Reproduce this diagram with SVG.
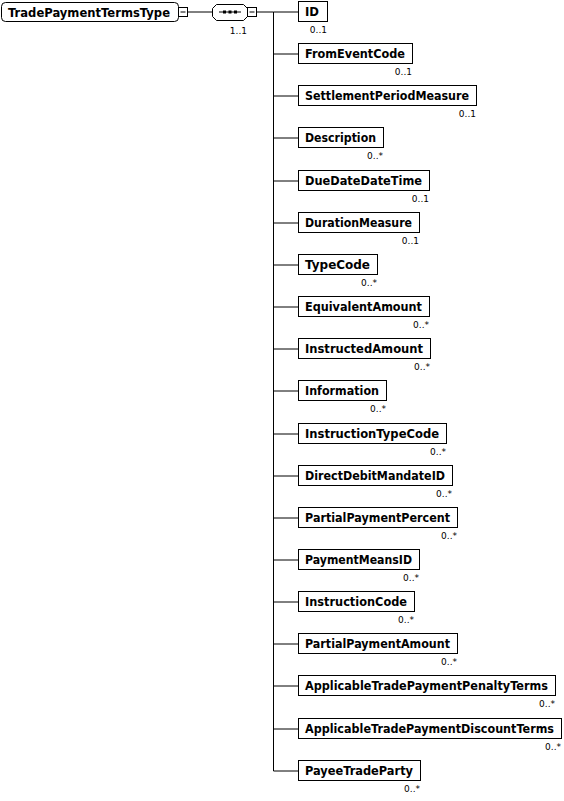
<svg xmlns="http://www.w3.org/2000/svg" width="564" height="801" viewBox="0 0 564 801">
<style>
.box{fill:#fff;stroke:#000;stroke-width:1}
.ln{stroke:#000;stroke-width:1;fill:none}
.nm{font-family:"DejaVu Sans",Verdana,sans-serif;font-weight:bold;font-size:11.5px;fill:#000}
.mul{font-family:"DejaVu Sans",Verdana,sans-serif;font-size:9px;fill:#000;text-anchor:end}
</style>
<defs>
<g id="minus"><rect class="box" x="0" y="0" width="9" height="9"/><line class="ln" x1="2" y1="4.5" x2="7" y2="4.5"/></g>
</defs>
<rect width="564" height="801" fill="#fff"/>
<g id="connectors">
<line class="ln" x1="187.5" y1="12" x2="212" y2="12"/>
<line class="ln" x1="256.5" y1="12" x2="273.5" y2="12"/>
<line class="ln" x1="273.5" y1="12" x2="273.5" y2="771"/>
<line class="ln" x1="273.5" y1="12" x2="298.5" y2="12"/>
<line class="ln" x1="273.5" y1="54" x2="298.5" y2="54"/>
<line class="ln" x1="273.5" y1="96" x2="298.5" y2="96"/>
<line class="ln" x1="273.5" y1="138" x2="298.5" y2="138"/>
<line class="ln" x1="273.5" y1="181" x2="298.5" y2="181"/>
<line class="ln" x1="273.5" y1="223" x2="298.5" y2="223"/>
<line class="ln" x1="273.5" y1="265" x2="298.5" y2="265"/>
<line class="ln" x1="273.5" y1="307" x2="298.5" y2="307"/>
<line class="ln" x1="273.5" y1="349" x2="298.5" y2="349"/>
<line class="ln" x1="273.5" y1="391" x2="298.5" y2="391"/>
<line class="ln" x1="273.5" y1="434" x2="298.5" y2="434"/>
<line class="ln" x1="273.5" y1="476" x2="298.5" y2="476"/>
<line class="ln" x1="273.5" y1="518" x2="298.5" y2="518"/>
<line class="ln" x1="273.5" y1="560" x2="298.5" y2="560"/>
<line class="ln" x1="273.5" y1="602" x2="298.5" y2="602"/>
<line class="ln" x1="273.5" y1="644" x2="298.5" y2="644"/>
<line class="ln" x1="273.5" y1="686" x2="298.5" y2="686"/>
<line class="ln" x1="273.5" y1="729" x2="298.5" y2="729"/>
<line class="ln" x1="273.5" y1="771" x2="298.5" y2="771"/>
</g>
<g id="root">
<rect class="box" x="1.5" y="2.5" width="177" height="19" rx="4"/>
<text class="nm" x="8" y="16.5" textLength="162" lengthAdjust="spacingAndGlyphs">TradePaymentTermsType</text>
<use href="#minus" x="178.5" y="7.5"/>
</g>
<g id="sequence">
<path class="box" d="M216.5,4.5 H243.5 L247.5,8.5 V16.5 L243.5,20.5 H216.5 L212.5,16.5 V8.5 Z"/>
<line class="ln" x1="219" y1="12" x2="241" y2="12"/>
<rect x="223" y="10.5" width="3" height="3" fill="#000"/>
<rect x="228.5" y="10.5" width="3" height="3" fill="#000"/>
<rect x="234" y="10.5" width="3" height="3" fill="#000"/>
<use href="#minus" x="247.5" y="7.5"/>
<text class="mul" x="247" y="34">1..1</text>
</g>
<g id="n0"><rect class="box" x="298.5" y="1.5" width="29" height="20"/><text class="nm" x="305" y="16" textLength="14" lengthAdjust="spacingAndGlyphs">ID</text><text class="mul" x="327" y="33">0..1</text></g>
<g id="n1"><rect class="box" x="298.5" y="43.5" width="114" height="20"/><text class="nm" x="305" y="58" textLength="100" lengthAdjust="spacingAndGlyphs">FromEventCode</text><text class="mul" x="412" y="75">0..1</text></g>
<g id="n2"><rect class="box" x="298.5" y="85.5" width="178" height="20"/><text class="nm" x="305" y="100" textLength="164" lengthAdjust="spacingAndGlyphs">SettlementPeriodMeasure</text><text class="mul" x="476" y="117">0..1</text></g>
<g id="n3"><rect class="box" x="298.5" y="127.5" width="85" height="20"/><text class="nm" x="305" y="142" textLength="71" lengthAdjust="spacingAndGlyphs">Description</text><text class="mul" x="383" y="159">0..*</text></g>
<g id="n4"><rect class="box" x="298.5" y="170.5" width="131" height="20"/><text class="nm" x="305" y="185" textLength="117" lengthAdjust="spacingAndGlyphs">DueDateDateTime</text><text class="mul" x="429" y="202">0..1</text></g>
<g id="n5"><rect class="box" x="298.5" y="212.5" width="121" height="20"/><text class="nm" x="305" y="227" textLength="107" lengthAdjust="spacingAndGlyphs">DurationMeasure</text><text class="mul" x="419" y="244">0..1</text></g>
<g id="n6"><rect class="box" x="298.5" y="254.5" width="79" height="20"/><text class="nm" x="305" y="269" textLength="65" lengthAdjust="spacingAndGlyphs">TypeCode</text><text class="mul" x="377" y="286">0..*</text></g>
<g id="n7"><rect class="box" x="298.5" y="296.5" width="131" height="20"/><text class="nm" x="305" y="311" textLength="117" lengthAdjust="spacingAndGlyphs">EquivalentAmount</text><text class="mul" x="429" y="328">0..*</text></g>
<g id="n8"><rect class="box" x="298.5" y="338.5" width="132" height="20"/><text class="nm" x="305" y="353" textLength="118" lengthAdjust="spacingAndGlyphs">InstructedAmount</text><text class="mul" x="430" y="370">0..*</text></g>
<g id="n9"><rect class="box" x="298.5" y="380.5" width="88" height="20"/><text class="nm" x="305" y="395" textLength="74" lengthAdjust="spacingAndGlyphs">Information</text><text class="mul" x="386" y="412">0..*</text></g>
<g id="n10"><rect class="box" x="298.5" y="423.5" width="148" height="20"/><text class="nm" x="305" y="438" textLength="134" lengthAdjust="spacingAndGlyphs">InstructionTypeCode</text><text class="mul" x="446" y="455">0..*</text></g>
<g id="n11"><rect class="box" x="298.5" y="465.5" width="154" height="20"/><text class="nm" x="305" y="480" textLength="140" lengthAdjust="spacingAndGlyphs">DirectDebitMandateID</text><text class="mul" x="452" y="497">0..*</text></g>
<g id="n12"><rect class="box" x="298.5" y="507.5" width="159" height="20"/><text class="nm" x="305" y="522" textLength="145" lengthAdjust="spacingAndGlyphs">PartialPaymentPercent</text><text class="mul" x="457" y="539">0..*</text></g>
<g id="n13"><rect class="box" x="298.5" y="549.5" width="121" height="20"/><text class="nm" x="305" y="564" textLength="107" lengthAdjust="spacingAndGlyphs">PaymentMeansID</text><text class="mul" x="419" y="581">0..*</text></g>
<g id="n14"><rect class="box" x="298.5" y="591.5" width="116" height="20"/><text class="nm" x="305" y="606" textLength="102" lengthAdjust="spacingAndGlyphs">InstructionCode</text><text class="mul" x="414" y="623">0..*</text></g>
<g id="n15"><rect class="box" x="298.5" y="633.5" width="159" height="20"/><text class="nm" x="305" y="648" textLength="145" lengthAdjust="spacingAndGlyphs">PartialPaymentAmount</text><text class="mul" x="457" y="665">0..*</text></g>
<g id="n16"><rect class="box" x="298.5" y="675.5" width="257" height="20"/><text class="nm" x="305" y="690" textLength="243" lengthAdjust="spacingAndGlyphs">ApplicableTradePaymentPenaltyTerms</text><text class="mul" x="555" y="707">0..*</text></g>
<g id="n17"><rect class="box" x="298.5" y="718.5" width="263" height="20"/><text class="nm" x="305" y="733" textLength="249" lengthAdjust="spacingAndGlyphs">ApplicableTradePaymentDiscountTerms</text><text class="mul" x="561" y="750">0..*</text></g>
<g id="n18"><rect class="box" x="298.5" y="760.5" width="122" height="20"/><text class="nm" x="305" y="775" textLength="108" lengthAdjust="spacingAndGlyphs">PayeeTradeParty</text><text class="mul" x="420" y="792">0..*</text></g>
</svg>
